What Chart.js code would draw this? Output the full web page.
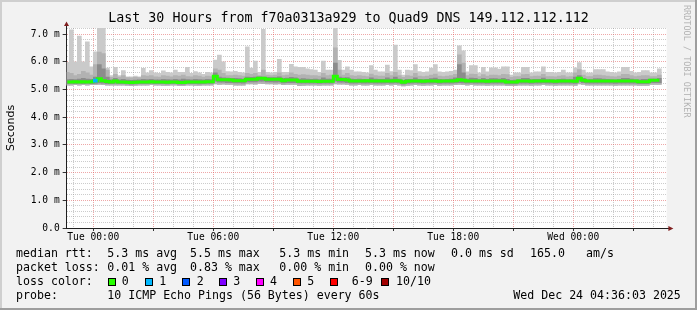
<!DOCTYPE html>
<html>
<head>
<meta charset="utf-8">
<script src="https://cdn.jsdelivr.net/npm/chart.js@4/dist/chart.umd.min.js"></script>
<style>
html,body{margin:0;padding:0;background:#f2f2f2;}
#wrap{position:relative;width:697px;height:310px;overflow:hidden;background:#f2f2f2;}
#c{position:absolute;left:0;top:0;}
.t{position:absolute;font-family:"DejaVu Sans Mono",monospace;font-size:11.6px;line-height:14px;white-space:pre;color:#000;}
.box{position:absolute;width:8px;height:8px;box-sizing:border-box;border:1px solid #000;}
.wm{position:absolute;left:692px;top:5px;transform:rotate(90deg);transform-origin:0 0;font-family:"DejaVu Sans Mono",monospace;font-size:8.5px;line-height:10px;white-space:pre;color:#b4b4b4;}
.fr{position:absolute;}
</style>
</head>
<body>
<div id="wrap">
<canvas id="c" width="697" height="310"></canvas>
<div class="wm">RRDTOOL / TOBI OETIKER</div>
<div class="fr" style="left:0;top:0;width:697px;height:2px;background:#cfcfcf"></div>
<div class="fr" style="left:0;top:0;width:2px;height:310px;background:#cfcfcf"></div>
<div class="fr" style="left:0;top:308px;width:697px;height:2px;background:#9e9e9e"></div>
<div class="fr" style="left:695px;top:0;width:2px;height:310px;background:#9e9e9e"></div>
</div>
<script>
// ---------- DATA ----------
const titleText = 'Last 30 Hours from f70a0313a929 to Quad9 DNS 149.112.112.112';
const yAxisTitle = 'Seconds';
// time in minutes relative to Tue 00:00; one smoke step = 12 minutes
const firstStepCenter = -78;
const stepMinutes = 12;
const tickMinutes = [0, 360, 720, 1080, 1440];
const tickLabels = ['Tue 00:00', 'Tue 06:00', 'Tue 12:00', 'Tue 18:00', 'Wed 00:00'];
const yTickLabels = ['0.0', '1.0 m', '2.0 m', '3.0 m', '4.0 m', '5.0 m', '6.0 m', '7.0 m'];

// milliseconds
const smokeMax = [
 5.98,7.15,6.0,6.93,6.0,6.72,5.82,6.36,7.5,7.5,
 5.77,5.5,5.8,5.5,5.68,5.46,5.46,5.48,5.46,5.76,
 5.6,5.68,5.6,5.58,5.67,5.62,5.6,5.7,5.62,5.62,
 5.8,5.58,5.65,5.6,5.55,5.62,5.6,6.06,6.24,6.0,
 5.65,5.64,5.66,5.62,5.6,6.54,5.77,6.03,5.62,7.17,
 5.62,5.6,5.62,6.09,5.62,5.62,5.91,5.82,5.8,5.8,
 5.75,5.72,5.7,5.62,6.03,5.7,5.7,7.5,6.05,5.7,
 5.82,5.7,5.64,5.64,5.62,5.6,5.86,5.7,5.64,5.64,
 5.88,5.65,6.6,5.7,5.52,5.7,5.68,5.9,5.65,5.62,
 5.64,5.77,5.9,5.64,5.62,5.64,5.66,5.7,6.58,6.4,
 5.64,5.86,5.86,5.6,5.8,5.64,5.78,5.78,5.74,5.82,
 5.82,5.52,5.6,5.6,5.8,5.8,5.6,5.64,5.64,5.82,
 5.62,5.62,5.6,5.62,5.7,5.6,5.6,5.78,5.97,5.7,
 5.6,5.6,5.72,5.72,5.72,5.64,5.62,5.6,5.64,5.8,
 5.8,5.66,5.6,5.62,5.68,5.68,5.6,5.6,5.75,null,
 null];
const smokeHi = [
 5.62,5.58,5.5,5.55,5.66,5.6,5.52,5.9,6.35,6.3,
 5.7,5.44,5.55,5.45,5.5,5.43,5.42,5.44,5.43,5.5,
 5.48,5.5,5.46,5.45,5.5,5.48,5.46,5.5,5.48,5.52,
 5.47,5.46,5.5,5.48,5.45,5.48,5.47,5.75,5.7,5.58,
 5.5,5.5,5.52,5.5,5.48,5.58,5.55,5.58,5.5,5.7,
 5.52,5.5,5.52,5.6,5.5,5.52,5.6,5.55,5.52,5.54,
 5.52,5.5,5.5,5.48,5.58,5.5,5.52,6.5,5.7,5.52,
 5.58,5.5,5.48,5.5,5.48,5.47,5.56,5.5,5.48,5.48,
 5.58,5.5,5.62,5.5,5.44,5.5,5.48,5.58,5.48,5.47,
 5.48,5.52,5.56,5.48,5.47,5.48,5.5,5.55,6.25,5.95,
 5.5,5.56,5.55,5.47,5.54,5.48,5.52,5.52,5.5,5.55,
 5.54,5.44,5.47,5.47,5.54,5.55,5.47,5.48,5.48,5.55,
 5.47,5.47,5.46,5.48,5.5,5.46,5.47,5.6,5.72,5.52,
 5.47,5.47,5.52,5.52,5.5,5.48,5.47,5.46,5.48,5.55,
 5.55,5.5,5.47,5.48,5.5,5.5,5.47,5.47,5.52,null,
 null];
const coreHi = [
 5.36,5.37,5.36,5.38,5.4,5.38,5.37,5.45,5.9,5.75,
 5.45,5.35,5.4,5.35,5.37,5.34,5.33,5.34,5.35,5.37,
 5.36,5.37,5.35,5.35,5.37,5.36,5.35,5.37,5.35,5.38,
 5.36,5.35,5.37,5.36,5.35,5.37,5.36,5.6,5.45,5.42,
 5.41,5.4,5.4,5.39,5.38,5.45,5.44,5.45,5.46,5.45,
 5.44,5.43,5.43,5.46,5.4,5.41,5.44,5.42,5.38,5.39,
 5.38,5.37,5.38,5.36,5.42,5.38,5.38,5.95,5.45,5.42,
 5.43,5.38,5.37,5.38,5.37,5.36,5.42,5.38,5.37,5.37,
 5.42,5.38,5.45,5.38,5.33,5.37,5.37,5.42,5.37,5.36,
 5.37,5.39,5.41,5.37,5.36,5.37,5.38,5.42,5.9,5.6,
 5.38,5.41,5.4,5.36,5.4,5.37,5.39,5.39,5.38,5.4,
 5.37,5.33,5.34,5.36,5.4,5.4,5.36,5.37,5.37,5.41,
 5.36,5.36,5.35,5.37,5.38,5.36,5.36,5.45,5.5,5.4,
 5.36,5.36,5.39,5.39,5.38,5.37,5.36,5.35,5.37,5.4,
 5.4,5.38,5.36,5.35,5.37,5.37,5.38,5.38,5.4,null,
 null];
const medianRtt = [
 5.27,5.27,5.28,5.27,5.28,5.27,5.28,5.32,5.39,5.32,
 5.29,5.27,5.31,5.27,5.27,5.26,5.25,5.26,5.27,5.27,
 5.27,5.28,5.27,5.27,5.27,5.26,5.27,5.27,5.25,5.25,
 5.27,5.27,5.27,5.27,5.27,5.28,5.28,5.48,5.35,5.35,
 5.35,5.34,5.32,5.32,5.32,5.37,5.37,5.37,5.41,5.41,
 5.37,5.37,5.37,5.37,5.32,5.34,5.34,5.34,5.3,5.3,
 5.3,5.3,5.3,5.29,5.3,5.3,5.3,5.48,5.36,5.36,
 5.34,5.31,5.31,5.31,5.31,5.32,5.31,5.31,5.31,5.31,
 5.31,5.31,5.32,5.31,5.26,5.3,5.31,5.31,5.31,5.3,
 5.31,5.31,5.31,5.3,5.31,5.31,5.31,5.32,5.35,5.33,
 5.31,5.31,5.31,5.31,5.31,5.3,5.31,5.31,5.31,5.31,
 5.27,5.27,5.27,5.31,5.31,5.31,5.3,5.31,5.31,5.31,
 5.31,5.31,5.3,5.31,5.31,5.31,5.31,5.3,5.41,5.33,
 5.31,5.31,5.31,5.31,5.31,5.31,5.31,5.31,5.31,5.31,
 5.31,5.31,5.31,5.28,5.28,5.28,5.33,5.33,5.33,null,
 null];
const coreLo = [
 5.21,5.22,5.21,5.22,5.21,5.22,5.21,5.22,5.24,5.23,
 5.21,5.21,5.22,5.21,5.21,5.2,5.19,5.2,5.21,5.21,
 5.21,5.22,5.21,5.21,5.21,5.2,5.21,5.21,5.19,5.19,
 5.21,5.21,5.21,5.2,5.21,5.22,5.22,5.3,5.26,5.26,
 5.25,5.25,5.24,5.24,5.23,5.27,5.27,5.27,5.3,5.3,
 5.27,5.27,5.26,5.27,5.24,5.25,5.25,5.25,5.23,5.23,
 5.23,5.23,5.23,5.22,5.23,5.23,5.23,5.3,5.26,5.26,
 5.25,5.23,5.23,5.24,5.23,5.23,5.24,5.23,5.23,5.23,
 5.24,5.23,5.24,5.23,5.19,5.22,5.23,5.24,5.23,5.22,
 5.23,5.23,5.24,5.22,5.23,5.23,5.23,5.24,5.25,5.24,
 5.23,5.24,5.23,5.23,5.23,5.22,5.23,5.23,5.23,5.23,
 5.2,5.2,5.2,5.23,5.23,5.23,5.22,5.23,5.23,5.24,
 5.23,5.23,5.22,5.23,5.23,5.23,5.23,5.22,5.3,5.25,
 5.23,5.23,5.23,5.23,5.23,5.23,5.23,5.22,5.23,5.23,
 5.23,5.23,5.23,5.21,5.21,5.21,5.25,5.25,5.25,null,
 null];
const smokeMin = [
 5.16,5.16,5.17,5.16,5.17,5.16,5.17,5.17,5.18,5.17,
 5.16,5.16,5.16,5.16,5.16,5.15,5.14,5.15,5.16,5.16,
 5.16,5.17,5.16,5.16,5.15,5.15,5.16,5.16,5.14,5.14,
 5.16,5.16,5.15,5.15,5.16,5.16,5.16,5.2,5.18,5.19,
 5.18,5.18,5.16,5.16,5.16,5.2,5.2,5.19,5.22,5.21,
 5.2,5.2,5.19,5.2,5.17,5.18,5.18,5.18,5.14,5.15,
 5.16,5.16,5.16,5.15,5.16,5.16,5.16,5.2,5.19,5.19,
 5.18,5.16,5.16,5.17,5.16,5.16,5.17,5.16,5.16,5.16,
 5.17,5.16,5.17,5.16,5.13,5.15,5.16,5.17,5.16,5.15,
 5.16,5.16,5.17,5.15,5.16,5.16,5.16,5.17,5.18,5.17,
 5.16,5.17,5.16,5.16,5.16,5.15,5.16,5.16,5.16,5.16,
 5.14,5.14,5.14,5.16,5.16,5.16,5.15,5.16,5.16,5.17,
 5.16,5.16,5.15,5.16,5.16,5.16,5.16,5.15,5.2,5.18,
 5.16,5.16,5.16,5.16,5.16,5.16,5.16,5.15,5.16,5.16,
 5.16,5.16,5.16,5.15,5.15,5.15,5.18,5.18,5.18,null,
 null];
// steps with packet loss (index into the arrays above) and their loss count
const lossSteps = [7];
const lossCounts = [1];

// legend
const lossLabels = ['0', '1', '2', '3', '4', '5', '6-9', '10/10'];
const lossColors = ['#26ff00', '#00b8ff', '#0059ff', '#7e00ff', '#ff00ff', '#ff5500', '#ff0000', '#a10000'];
const medianLegend = ['median rtt:', '5.3 ms avg', '5.5 ms max', '5.3 ms min', '5.3 ms now', '0.0 ms sd', '165.0', 'am/s'];
const lossLegend = ['packet loss:', '0.01 % avg', '0.83 % max', '0.00 % min', '0.00 % now'];
const probeLegend = ['probe:', '10 ICMP Echo Pings (56 Bytes) every 60s', 'Wed Dec 24 04:36:03 2025'];
const lossColorTitle = 'loss color:';
const watermark = 'RRDTOOL / TOBI OETIKER';

// ---------- LAYOUT / STYLE ----------
const wrap = document.getElementById('wrap');
function addText(x, y, s) {
  const d = document.createElement('div');
  d.className = 't'; d.style.left = x + 'px'; d.style.top = y + 'px'; d.textContent = s;
  wrap.appendChild(d);
}
const rowTop = [246.3, 260.1, 274.0, 287.8];
const medX = [16, 107.3, 190, 279.3, 365, 451, 530, 586];
medianLegend.forEach((s, i) => addText(medX[i], rowTop[0], s));
const lossX = [16, 107.3, 190, 279.3, 365];
lossLegend.forEach((s, i) => addText(lossX[i], rowTop[1], s));
addText(16, rowTop[2], lossColorTitle);
const boxX = [108, 145, 182, 219, 256, 293, 330, 381];
const boxLabelX = [121.7, 159.3, 196.7, 233.3, 270, 307.3, 351.7, 396];
lossLabels.forEach((s, i) => {
  const b = document.createElement('div');
  b.className = 'box'; b.style.left = boxX[i] + 'px'; b.style.top = '278px'; b.style.background = lossColors[i];
  wrap.appendChild(b);
  addText(boxLabelX[i], rowTop[2], s);
});
const probeX = [16, 107.3, 513.3];
probeLegend.forEach((s, i) => addText(probeX[i], rowTop[3], s));
document.querySelector('.wm').textContent = watermark;

const xs = medianRtt.map((_, k) => firstStepCenter + k * stepMinutes);
function band(lo, hi) {
  const out = [];
  xs.forEach((x, k) => { if (lo[k] != null && hi[k] != null) out.push({x: x, y: [lo[k], hi[k]]}); });
  return out;
}
const medianPts = [];
xs.forEach((x, k) => { if (medianRtt[k] != null) medianPts.push({x: x, y: medianRtt[k]}); });
const lineHalf = 0.055;
const lossPts = lossSteps.map(k => ({x: xs[k], y: [medianRtt[k] - lineHalf, medianRtt[k] + lineHalf]}));
const lossPtColors = lossCounts.map(c => lossColors[Math.min(c, 7)]);

const gridX = []; for (let m = -60; m <= 1680; m += 60) gridX.push(m);
const gridY = []; for (let i = 0; i <= 36; i++) gridY.push(i / 5);
const RED = 'rgba(222,79,79,0.5)', GREY = 'rgba(143,143,143,0.45)', TICK = '#333333';
const isMajX = v => v % 180 === 0;
const isMajY = v => Math.abs(v - Math.round(v)) < 1e-6;

const bgPlugin = {
  id: 'plotbg',
  beforeDraw(chart) {
    const {ctx, chartArea: a} = chart;
    ctx.save(); ctx.fillStyle = '#ffffff';
    ctx.fillRect(a.left, a.top, a.right - a.left, a.bottom - a.top);
    ctx.restore();
  }
};
const arrowPlugin = {
  id: 'arrows',
  afterDraw(chart) {
    const {ctx, chartArea: a} = chart;
    const ax = Math.round(a.left - 0.5) + 0.5;
    const ay = Math.round(a.bottom - 0.5) + 0.5;
    ctx.save();
    ctx.strokeStyle = '#1f1f1f'; ctx.lineWidth = 1;
    ctx.beginPath(); ctx.moveTo(ax, a.top); ctx.lineTo(ax, a.top - 4);
    ctx.moveTo(a.right - 1, ay); ctx.lineTo(a.right + 3, ay); ctx.stroke();
    ctx.fillStyle = '#801f1f';
    ctx.beginPath(); ctx.moveTo(ax, a.top - 6.5); ctx.lineTo(ax - 2.5, a.top - 2); ctx.lineTo(ax + 2.5, a.top - 2); ctx.closePath(); ctx.fill();
    ctx.beginPath(); ctx.moveTo(a.right + 6.7, ay); ctx.lineTo(a.right + 1.7, ay - 2.5); ctx.lineTo(a.right + 1.7, ay + 2.5); ctx.closePath(); ctx.fill();
    ctx.restore();
  }
};

const barCommon = {type: 'bar', grouped: false, barPercentage: 1, categoryPercentage: 1, borderWidth: 0};
new Chart(document.getElementById('c'), {
  type: 'bar',
  data: {
    datasets: [
      Object.assign({}, barCommon, {label: 'loss', data: lossPts, backgroundColor: lossPtColors, order: 0}),
      {type: 'line', label: 'median', data: medianPts, borderColor: '#26ff00', borderWidth: 3, stepped: 'middle', pointRadius: 0, fill: false, order: 1},
      Object.assign({}, barCommon, {label: 'core', data: band(coreLo, coreHi), backgroundColor: '#8c8c8c', order: 2}),
      Object.assign({}, barCommon, {label: 'mid', data: band(smokeMin, smokeHi), backgroundColor: '#b2b2b2', order: 3}),
      Object.assign({}, barCommon, {label: 'smoke', data: band(smokeMin, smokeMax), backgroundColor: '#cacaca', order: 4})
    ]
  },
  options: {
    responsive: false, animation: false, devicePixelRatio: 1,
    events: [],
    layout: {padding: {top: 0, left: 0, right: 0, bottom: 62}},
    plugins: {
      legend: {display: false}, tooltip: {enabled: false},
      title: {display: true, text: titleText, color: '#000',
        font: {family: 'DejaVu Sans Mono', size: 13.3, lineHeight: 1.2, weight: 'normal'},
        padding: {top: 10.7, bottom: 1.34}}
    },
    scales: {
      x: {
        type: 'linear', min: -80, max: 1720, offset: false, z: 1,
        afterBuildTicks: s => { s.ticks = gridX.map(v => ({value: v})); },
        afterFit: s => { s.height = 20; },
        grid: {offset: false, lineWidth: 1, tickLength: 3, tickBorderDash: [],
          color: c => (c.tick && isMajX(c.tick.value)) ? RED : GREY,
          tickColor: c => (c.tick && isMajX(c.tick.value)) ? TICK : 'rgba(0,0,0,0)'},
        border: {display: true, color: '#1f1f1f', width: 1, dash: [1, 1]},
        ticks: {autoSkip: false, maxRotation: 0, minRotation: 0, padding: 1, color: '#000',
          font: {family: 'DejaVu Sans Mono', size: 9.6},
          callback: v => { const i = tickMinutes.indexOf(v); return i >= 0 ? tickLabels[i] : ''; }}
      },
      y: {
        type: 'linear', min: 0, max: 7.22, z: 1,
        afterBuildTicks: s => { s.ticks = gridY.map(v => ({value: v})); },
        afterFit: s => { s.width = 66.67; },
        grid: {lineWidth: 1, tickLength: 4, tickBorderDash: [],
          color: c => (c.tick && isMajY(c.tick.value)) ? RED : GREY,
          tickColor: c => (c.tick && isMajY(c.tick.value)) ? TICK : 'rgba(0,0,0,0)'},
        border: {display: true, color: '#1f1f1f', width: 1, dash: [1, 1]},
        ticks: {autoSkip: false, padding: 3, color: '#000',
          font: {family: 'DejaVu Sans Mono', size: 9.6},
          callback: (v, i) => (i % 5 === 0 && yTickLabels[i / 5] !== undefined) ? yTickLabels[i / 5] : ''},
        title: {display: true, text: yAxisTitle, color: '#000',
          font: {family: 'DejaVu Sans', size: 11, lineHeight: 1.2}, padding: {top: 4.4, bottom: 0}}
      },
      yR: {
        position: 'right', display: true,
        grid: {display: false, drawTicks: false}, border: {display: false},
        ticks: {display: false},
        afterFit: s => { s.width = 30.33; }
      }
    }
  },
  plugins: [bgPlugin, arrowPlugin]
});
</script>
</body>
</html>
